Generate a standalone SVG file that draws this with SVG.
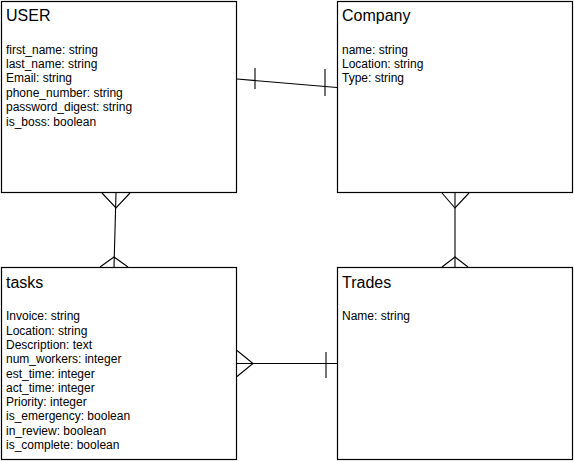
<svg xmlns="http://www.w3.org/2000/svg" width="574" height="461" viewBox="0 0 574 461">
<style>
.box{fill:#fff;stroke:#000;stroke-width:1.2}
.title{font-family:"Liberation Sans",Arial,sans-serif;font-size:16px;fill:#000}
.attr{font-family:"Liberation Sans",Arial,sans-serif;font-size:12px;fill:#000}
.conn line,.conn polyline{stroke:#000;stroke-width:1.1;fill:none}
</style>
<rect width="574" height="461" fill="#fff"/>
<g id="connectors" class="conn">
<line x1="237" y1="79" x2="337" y2="87.5"/>
<line x1="255" y1="68" x2="255" y2="89"/>
<line x1="325" y1="69" x2="325" y2="96"/>
<line x1="116" y1="193" x2="114" y2="267"/>
<polyline points="102,193 116,208 130,193"/>
<polyline points="100,267 114,257 128,267"/>
<line x1="455" y1="193" x2="455" y2="267"/>
<polyline points="442,193 455,208 469,193"/>
<polyline points="442,267 455,257 468,267"/>
<line x1="237" y1="363.5" x2="337" y2="363.5"/>
<polyline points="237,350.5 253,363.5 237,376.5"/>
<line x1="326" y1="352" x2="326" y2="378"/>
</g>
<g id="user">
<rect class="box" x="1.5" y="1.5" width="235" height="191"/>
<text class="title" x="6" y="21">USER</text>
<text class="attr" x="6" y="53.5">first_name: string</text>
<text class="attr" x="6" y="67.9">last_name: string</text>
<text class="attr" x="6" y="82.3">Email: string</text>
<text class="attr" x="6" y="96.7">phone_number: string</text>
<text class="attr" x="6" y="111.1">password_digest: string</text>
<text class="attr" x="6" y="125.5">is_boss: boolean</text>
</g>
<g id="company">
<rect class="box" x="337.5" y="1.5" width="235" height="191"/>
<text class="title" x="342" y="21">Company</text>
<text class="attr" x="342" y="53.5">name: string</text>
<text class="attr" x="342" y="67.9">Location: string</text>
<text class="attr" x="342" y="82.3">Type: string</text>
</g>
<g id="tasks">
<rect class="box" x="1.5" y="267.5" width="235" height="192"/>
<text class="title" x="6" y="287.5">tasks</text>
<text class="attr" x="6" y="320.3">Invoice: string</text>
<text class="attr" x="6" y="334.6">Location: string</text>
<text class="attr" x="6" y="348.9">Description: text</text>
<text class="attr" x="6" y="363.2">num_workers: integer</text>
<text class="attr" x="6" y="377.5">est_time: integer</text>
<text class="attr" x="6" y="391.8">act_time: integer</text>
<text class="attr" x="6" y="406.1">Priority: integer</text>
<text class="attr" x="6" y="420.4">is_emergency: boolean</text>
<text class="attr" x="6" y="434.7">in_review: boolean</text>
<text class="attr" x="6" y="449">is_complete: boolean</text>
</g>
<g id="trades">
<rect class="box" x="337.5" y="267.5" width="235" height="192"/>
<text class="title" x="342" y="287.5">Trades</text>
<text class="attr" x="342" y="320.3">Name: string</text>
</g>
</svg>
